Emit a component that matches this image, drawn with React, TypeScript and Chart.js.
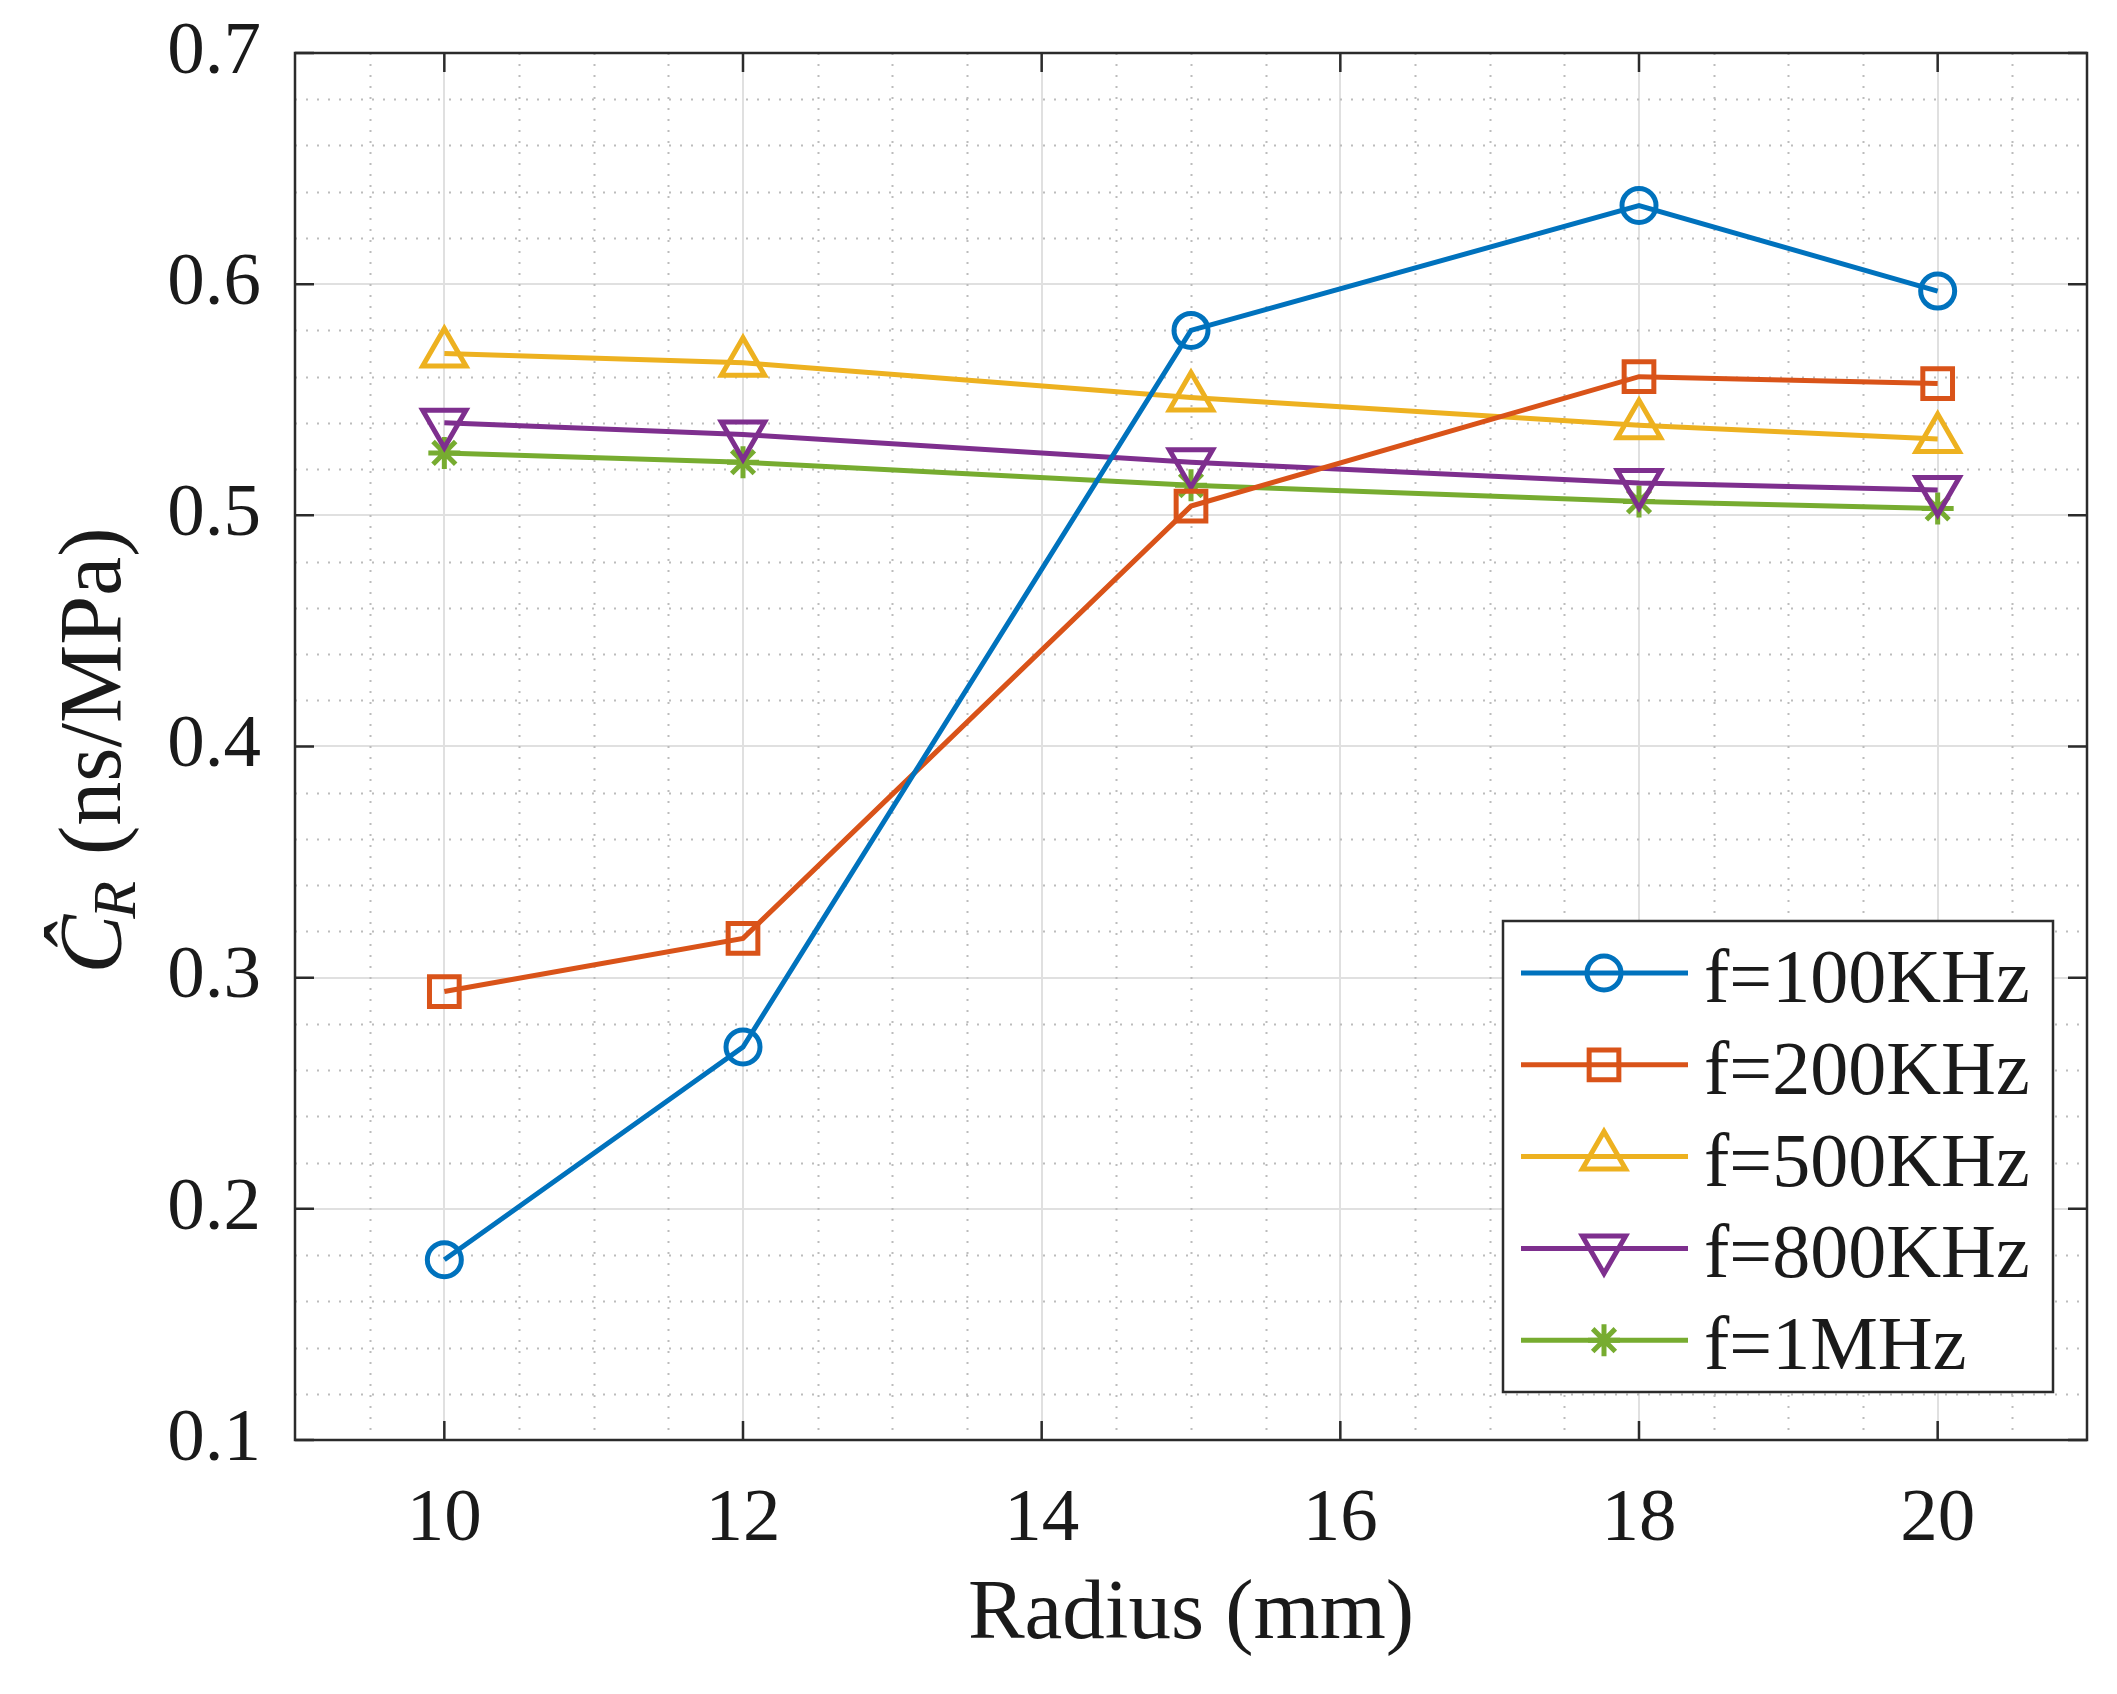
import React, { useEffect, useRef } from 'react';
import { Chart, registerables } from 'chart.js';
import { drawPoint } from 'chart.js/helpers';

Chart.register(...registerables);

// ---- data ----
const radius = [10, 12, 15, 18, 20];
const seriesLabels = ['f=100KHz', 'f=200KHz', 'f=500KHz', 'f=800KHz', 'f=1MHz'];
const f100k = [0.178, 0.270, 0.580, 0.634, 0.597];
const f200k = [0.294, 0.317, 0.504, 0.560, 0.557];
const f500k = [0.570, 0.566, 0.551, 0.539, 0.533];
const f800k = [0.540, 0.535, 0.523, 0.514, 0.511];
const f1M = [0.527, 0.523, 0.513, 0.506, 0.503];
const xTickValues = [10, 12, 14, 16, 18, 20];
const yTickValues = [0.1, 0.2, 0.3, 0.4, 0.5, 0.6, 0.7];
const xTitle = 'Radius (mm)';
const yTitleSymbol = 'Ĉ';
const yTitleSub = 'R';
const yTitleUnit = '(ns/MPa)';

// ---- styling ----
const W = 2117;
const H = 1694;
const X_MIN = 9, X_MAX = 21, X_MINOR = 0.5;
const Y_MIN = 0.1, Y_MAX = 0.7, Y_MINOR = 0.02;
const FONT = '"Liberation Serif", "Times New Roman", serif';
const TEXT = '#1a1a1a';
const LW = 5;
const colors = ['#0072BD', '#D95319', '#EDB120', '#7E2F8E', '#77AC30'];
const styles: any[] = [
  { pointStyle: 'circle', radius: 17, rotation: 0 },
  { pointStyle: 'rect', radius: 21, rotation: 0 },
  { pointStyle: 'triangle', radius: 25, rotation: 0 },
  { pointStyle: 'triangle', radius: 25, rotation: 180 },
  { pointStyle: 'star', radius: 16, rotation: 0 },
];
const seriesValues = [f100k, f200k, f500k, f800k, f1M];

const isMultiple = (v: number, step: number) => {
  const r = v / step;
  return Math.abs(r - Math.round(r)) < 1e-6;
};

const axesPlugin = {
  id: 'matlabAxes',
  beforeDatasetsDraw(chart: any) {
    const { ctx, chartArea: a, scales } = chart;
    const x = scales.x, y = scales.y;
    ctx.save();
    // minor dotted grid
    ctx.strokeStyle = '#bcbcbc';
    ctx.lineWidth = 2;
    ctx.setLineDash([2, 9]);
    const nx = Math.round((X_MAX - X_MIN) / X_MINOR);
    for (let i = 1; i < nx; i++) {
      const v = X_MIN + i * X_MINOR;
      if (xTickValues.some((t) => Math.abs(t - v) < 1e-6)) continue;
      const px = Math.round(x.getPixelForValue(v)) + 0.5;
      ctx.beginPath();
      ctx.moveTo(px, a.top);
      ctx.lineTo(px, a.bottom);
      ctx.stroke();
    }
    const ny = Math.round((Y_MAX - Y_MIN) / Y_MINOR);
    for (let i = 1; i < ny; i++) {
      const v = Y_MIN + i * Y_MINOR;
      if (isMultiple(v, 0.1)) continue;
      const py = Math.round(y.getPixelForValue(v)) + 0.5;
      ctx.beginPath();
      ctx.moveTo(a.left, py);
      ctx.lineTo(a.right, py);
      ctx.stroke();
    }
    ctx.setLineDash([]);
    // box
    ctx.strokeStyle = '#2b2b2b';
    ctx.lineWidth = 2.5;
    ctx.strokeRect(a.left, a.top, a.right - a.left, a.bottom - a.top);
    // inside ticks
    const tl = 19;
    ctx.beginPath();
    xTickValues.forEach((v) => {
      const px = x.getPixelForValue(v);
      ctx.moveTo(px, a.bottom);
      ctx.lineTo(px, a.bottom - tl);
      ctx.moveTo(px, a.top);
      ctx.lineTo(px, a.top + tl);
    });
    yTickValues.forEach((v) => {
      const py = y.getPixelForValue(v);
      ctx.moveTo(a.left, py);
      ctx.lineTo(a.left + tl, py);
      ctx.moveTo(a.right, py);
      ctx.lineTo(a.right - tl, py);
    });
    ctx.stroke();
    ctx.restore();
  },
  afterDraw(chart: any) {
    const { ctx, chartArea: a } = chart;
    ctx.save();
    // y axis title (rotated, with italic symbol and subscript)
    const mainSize = 88;
    const subSize = 62;
    const cy = (a.top + a.bottom) / 2 + 4;
    ctx.translate(120, cy);
    ctx.rotate(-Math.PI / 2);
    ctx.fillStyle = TEXT;
    ctx.textBaseline = 'alphabetic';
    ctx.textAlign = 'left';
    ctx.font = `italic ${mainSize}px ${FONT}`;
    const wSym = ctx.measureText(yTitleSymbol).width;
    ctx.font = `italic ${subSize}px ${FONT}`;
    const wSub = ctx.measureText(yTitleSub).width;
    ctx.font = `${mainSize}px ${FONT}`;
    const gap = ctx.measureText(' ').width;
    const wUnit = ctx.measureText(yTitleUnit).width;
    const total = wSym + wSub + gap + wUnit;
    let cx = -total / 2;
    ctx.font = `italic ${mainSize}px ${FONT}`;
    ctx.fillText(yTitleSymbol, cx, 0);
    cx += wSym - 4;
    ctx.font = `italic ${subSize}px ${FONT}`;
    ctx.fillText(yTitleSub, cx, 15);
    cx += wSub + 4 + gap;
    ctx.font = `${mainSize}px ${FONT}`;
    ctx.fillText(yTitleUnit, cx, 0);
    ctx.restore();

    // legend
    ctx.save();
    const box = { l: 1503, t: 921, r: 2053, b: 1392 };
    ctx.fillStyle = '#ffffff';
    ctx.fillRect(box.l, box.t, box.r - box.l, box.b - box.t);
    ctx.strokeStyle = '#2b2b2b';
    ctx.lineWidth = 2.5;
    ctx.strokeRect(box.l, box.t, box.r - box.l, box.b - box.t);
    chart.data.datasets.forEach((ds: any, i: number) => {
      const ry = box.t + 52 + i * 91.8;
      ctx.strokeStyle = ds.borderColor;
      ctx.lineWidth = LW;
      ctx.beginPath();
      ctx.moveTo(box.l + 18, ry);
      ctx.lineTo(box.l + 185, ry);
      ctx.stroke();
      ctx.fillStyle = 'rgba(0,0,0,0)';
      drawPoint(ctx, {
        pointStyle: ds.pointStyle,
        radius: ds.pointRadius,
        rotation: ds.pointRotation,
        borderWidth: LW,
      } as any, box.l + 101, ry);
      ctx.fillStyle = TEXT;
      ctx.font = `76px ${FONT}`;
      ctx.textAlign = 'left';
      ctx.textBaseline = 'alphabetic';
      ctx.fillText(ds.label, box.l + 201, ry + 29);
    });
    ctx.restore();
  },
};

export default function App() {
  const ref = useRef<HTMLCanvasElement | null>(null);
  useEffect(() => {
    if (!ref.current) return;
    const datasets = seriesValues.map((vals, i) => ({
      label: seriesLabels[i],
      data: radius.map((r, j) => ({ x: r, y: vals[j] })),
      borderColor: colors[i],
      backgroundColor: 'rgba(0,0,0,0)',
      borderWidth: LW,
      pointStyle: styles[i].pointStyle,
      pointRadius: styles[i].radius,
      pointRotation: styles[i].rotation,
      pointBorderWidth: LW,
      pointBorderColor: colors[i],
      pointBackgroundColor: 'rgba(0,0,0,0)',
      tension: 0,
    }));
    const chart = new Chart(ref.current, {
      type: 'line',
      data: { datasets },
      plugins: [axesPlugin],
      options: {
        animation: false,
        responsive: false,
        devicePixelRatio: 1,
        layout: { padding: { left: 0, top: 53, right: 20, bottom: 0 } },
        plugins: { legend: { display: false }, tooltip: { enabled: false } },
        scales: {
          x: {
            type: 'linear',
            min: X_MIN,
            max: X_MAX,
            afterBuildTicks: (s: any) => { s.ticks = xTickValues.map((v) => ({ value: v })); },
            afterFit: (s: any) => {
              s.height = 254;
              s.paddingLeft = 0; s.paddingRight = 0; s.paddingTop = 0; s.paddingBottom = 0;
            },
            grid: { color: '#e0e0e0', lineWidth: 2, drawTicks: false },
            border: { display: false },
            ticks: {
              padding: 35,
              color: TEXT,
              font: { family: FONT, size: 75 },
              callback: (v: any) => String(v),
            },
            title: {
              display: true,
              text: xTitle,
              color: TEXT,
              font: { family: FONT, size: 85 },
              padding: { top: 0, bottom: 27 },
            },
          },
          y: {
            type: 'linear',
            min: Y_MIN,
            max: Y_MAX,
            afterBuildTicks: (s: any) => { s.ticks = yTickValues.map((v) => ({ value: v })); },
            afterFit: (s: any) => {
              s.width = 295;
              s.paddingLeft = 0; s.paddingRight = 0; s.paddingTop = 0; s.paddingBottom = 0;
            },
            grid: { color: '#e0e0e0', lineWidth: 2, drawTicks: false },
            border: { display: false },
            ticks: {
              padding: 34,
              color: TEXT,
              font: { family: FONT, size: 75 },
              callback: (v: any) => Number(v).toFixed(1),
            },
          },
        },
      } as any,
    });
    return () => chart.destroy();
  }, []);
  return (
    <div style={{ position: 'absolute', left: 0, top: 0, width: W, height: H, background: '#fff' }}>
      <canvas ref={ref} width={W} height={H} style={{ display: 'block', width: W, height: H }} />
    </div>
  );
}
